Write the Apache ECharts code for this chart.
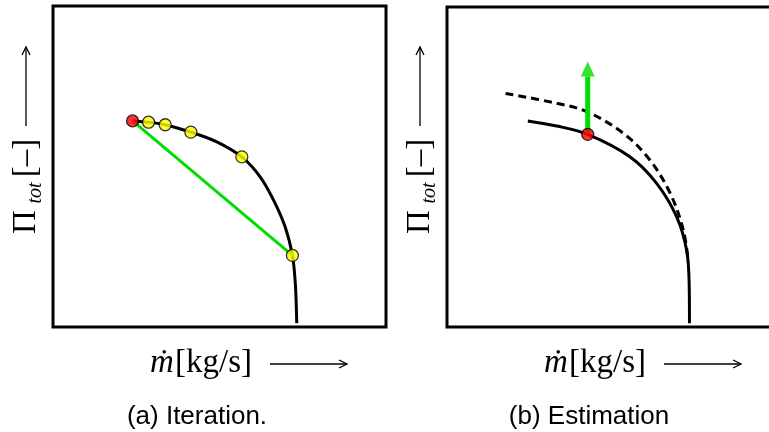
<!DOCTYPE html>
<html><head><meta charset="utf-8">
<script src="https://cdn.jsdelivr.net/npm/echarts@6/dist/echarts.min.js"></script>
<style>html,body{margin:0;padding:0;background:#fff}#c{width:769px;height:432px}</style>
</head><body><div id="c"></div>
<script>
// Panel (a): iteration along the characteristic
const curveIter = [[23.9,64.2],[28.7,63.8],[33.7,63.0],[41.4,60.7],[49.2,57.7],[56.7,53.0],[62.2,46.8],[66.2,39.6],[69.7,31.2],[71.9,22.3],[72.7,14.6],[73.0,8.4],[73.2,1.2]];
const startIter = [[23.9,64.2]];
const iterates = [[28.7,63.8],[33.7,63.0],[41.4,60.7],[56.7,53.0],[71.9,22.3]];
const secant = [[23.9,64.2],[71.9,22.3]];
// Panel (b): estimation
const curveCurrent = [[25.1,64.4],[34.1,62.8],[43.7,60.2],[56.8,53.2],[65.1,44.9],[71.3,34.5],[74.4,24.1],[75.2,13.7],[75.3,1.2]];
const curveEstimated = [[18.2,73.0],[34.1,69.9],[43.4,67.3],[54.8,60.5],[63.0,52.2],[69.3,41.8],[73.4,30.3],[74.9,20.5]];
const estPoint = [[43.7,60.2]];
const arrowShaft = [[43.7,60.2],[43.7,78.3]];
const arrowHead = [[43.7,80.6]];
// Texts
const captions = ['(a) Iteration.', '(b) Estimation'];
const yLabelParts = ['Π', 'tot', '[–]'];
const xLabelParts = ['ṁ', '[kg/s]'];

const GREEN = '#00dd00';
const serif = '"Liberation Serif", "DejaVu Serif", serif';

function txt(x, y, text, font, align, rot) {
  return {type:'text', x:x, y:y, rotation: rot || 0, silent:true,
    style:{text:text, font:font, fill:'#000', align:align, verticalAlign:'middle', textAlign:align, textVerticalAlign:'middle'}};
}
function arrowLine(x1,y1,x2,y2,h) {
  return [
    {type:'line', silent:true, shape:{x1:x1,y1:y1,x2:x2,y2:y2}, style:{stroke:'#000', lineWidth:1.3}},
    {type:'polyline', silent:true, shape:{points:h}, style:{stroke:'#000', lineWidth:1.3, fill:null}}
  ];
}
function labels(dx, cap, cx) {
  let els = [];
  els.push(txt(26+dx, 222, yLabelParts[0], '33px ' + serif, 'center', Math.PI/2));
  els.push(txt(36+dx, 193, yLabelParts[1], 'italic 20px ' + serif, 'center', Math.PI/2));
  els.push(txt(26+dx, 158, yLabelParts[2], '33px ' + serif, 'center', Math.PI/2));
  els = els.concat(arrowLine(26+dx,126,26+dx,47,[[22+dx,55],[26+dx,47],[30+dx,55]]));
  els.push(txt(150+dx, 363, xLabelParts[0], 'italic 33px ' + serif, 'left'));
  els.push(txt(175+dx, 363, xLabelParts[1], '33px ' + serif, 'left'));
  els = els.concat(arrowLine(270+dx,364,347+dx,364,[[339+dx,360],[347+dx,364],[339+dx,368]]));
  els.push(txt(cx, 417, cap, '26px "Liberation Sans", Arial, sans-serif', 'center'));
  return els;
}

const chart = echarts.init(document.getElementById('c'), null, {renderer:'canvas'});
const ax = (i) => ({type:'value', min:0, max:100, show:false, gridIndex:i});
const frameB = {type:'rect', silent:true, z:10, shape:{x:447, y:7, width:340, height:320}, style:{fill:null, stroke:'#000', lineWidth:3}};
chart.setOption({
  animation:false,
  grid:[{left:53, top:6, width:333, height:321, show:true, borderColor:'#000', borderWidth:3, backgroundColor:'transparent'},
        {left:447, top:7, width:322, height:320, show:false}],
  xAxis:[ax(0), ax(1)],
  yAxis:[ax(0), ax(1)],
  series:[
    {type:'line', xAxisIndex:0, yAxisIndex:0, data:curveIter, smooth:0.35, symbol:'none', lineStyle:{color:'#000', width:3}, z:2, silent:true},
    {type:'line', xAxisIndex:0, yAxisIndex:0, data:secant, symbol:'none', lineStyle:{color:GREEN, width:3}, z:3, silent:true},
    {type:'scatter', xAxisIndex:0, yAxisIndex:0, data:iterates, symbolSize:12, itemStyle:{color:'#ffff00', borderColor:'#000', borderWidth:1.3}, z:4, silent:true},
    {type:'scatter', xAxisIndex:0, yAxisIndex:0, data:startIter, symbolSize:12, itemStyle:{color:'#ff0000', borderColor:'#000', borderWidth:1.3}, z:5, silent:true},
    {type:'line', xAxisIndex:1, yAxisIndex:1, data:curveEstimated, smooth:0.35, symbol:'none', lineStyle:{color:'#000', width:3, type:[8,5]}, z:2, silent:true},
    {type:'line', xAxisIndex:1, yAxisIndex:1, data:curveCurrent, smooth:0.35, symbol:'none', lineStyle:{color:'#000', width:3}, z:2, silent:true},
    {type:'line', xAxisIndex:1, yAxisIndex:1, data:arrowShaft, symbol:'none', lineStyle:{color:GREEN, width:5}, z:3, silent:true},
    {type:'scatter', xAxisIndex:1, yAxisIndex:1, data:arrowHead, symbol:'triangle', symbolSize:[14,15], itemStyle:{color:GREEN}, z:3, silent:true},
    {type:'scatter', xAxisIndex:1, yAxisIndex:1, data:estPoint, symbolSize:12, itemStyle:{color:'#ff0000', borderColor:'#000', borderWidth:1.3}, z:5, silent:true}
  ],
  graphic: labels(0, captions[0], 197).concat(labels(394, captions[1], 589)).concat([frameB])
});
</script></body></html>
